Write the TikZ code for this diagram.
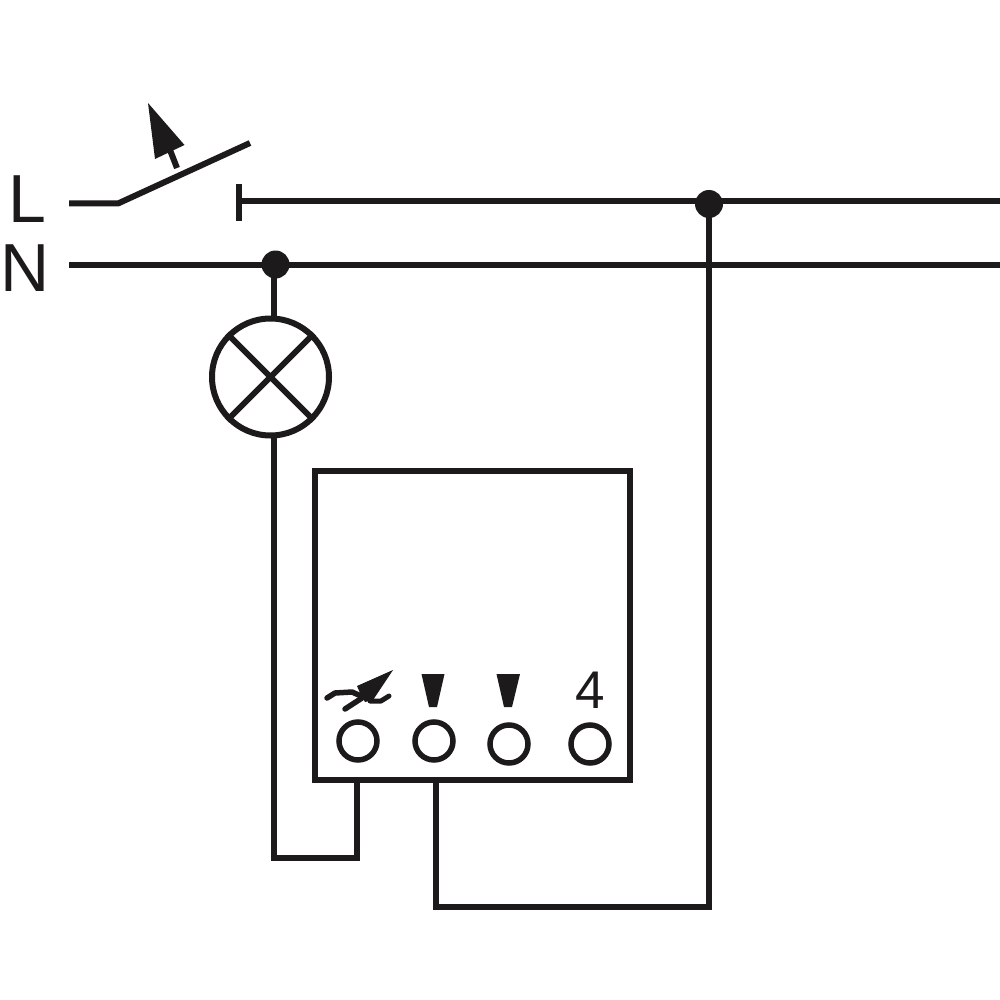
\documentclass[tikz,border=0pt]{standalone}
\usepackage{fontspec}
\setmainfont{Liberation Sans}
\definecolor{ink}{HTML}{1D1A1B}
\tikzset{
  wire/.style={draw=ink,line width=6pt},
  dot/.style={circle,fill=ink,draw=none,minimum size=28pt,inner sep=0pt},
  terminal/.style={circle,draw=ink,line width=5.5pt,fill=white,minimum size=38pt,inner sep=0pt},
  lamp/.style={circle,draw=ink,line width=6pt,minimum size=117pt,inner sep=0pt},
  device/.style={rectangle,draw=ink,line width=6pt,minimum width=315pt,minimum height=309pt,inner sep=0pt},
  letter/.style={text=ink,font=\fontsize{68}{68}\selectfont,inner sep=0pt},
  digit/.style={text=ink,font=\fontsize{53}{53}\selectfont,inner sep=0pt},
  solidmark/.style={fill=ink,draw=none}
}
\begin{document}
\begin{tikzpicture}[x=1pt,y=-1pt]
\useasboundingbox (0,0) rectangle (1000,1000);
\fill[white] (0,0) rectangle (1000,1000);
% labels
\node[letter] (labL) at (27,199.5) {L};
\node[letter] (labN) at (25.5,268.5) {N};
% free ends
\coordinate (Lstart) at (69,203.5);
\coordinate (hinge) at (118,203.5);
\coordinate (swtip) at (250,143);
\coordinate (ctop) at (239,184);
\coordinate (cbot) at (239,221);
\coordinate (cmid) at (239,201);
\coordinate (Lend) at (1000,201);
\coordinate (Nstart) at (69,264.5);
\coordinate (Nend) at (1000,264.5);
% switch
\draw[wire] (Lstart) -- (hinge) -- (swtip);
\draw[wire] (ctop) -- (cbot);
\draw[wire] (cmid) -- (Lend);
\draw[wire] (Nstart) -- (Nend);
% switch arrow
\fill[solidmark] (148,103) -- (184.5,145) -- (155,159) -- cycle;
\draw[wire] (170,150) -- (177,168);
% junctions
\node[dot] (jL) at (709,204) {};
\node[dot] (jN) at (275.5,264.5) {};
% lamp
\node[lamp] (lamp) at (270.5,377) {};
\draw[wire] (lamp.north west) -- (lamp.south east);
\draw[wire] (lamp.north east) -- (lamp.south west);
% device
\node[device] (box) at (472.5,625.5) {};
\node[terminal] (t1) at (358,741) {};
\node[terminal] (t2) at (434,741) {};
\node[terminal] (t3) at (509,744) {};
\node[terminal] (t4) at (590,744) {};
\node[digit] (four) at (590.5,690.5) {4};
% terminal marks
\fill[solidmark] (421.5,674) -- (444.5,674) -- (437,707) -- (429,707) -- cycle;
\fill[solidmark] (496.5,674) -- (520,674) -- (512,707) -- (504,707) -- cycle;
% dimmer mark
\fill[solidmark] (393,670) -- (357,686) -- (360,693) -- (365,702) -- (373,700) -- cycle;
\draw[draw=ink,line width=5.5pt,line cap=round,line join=round] (327,698) -- (335,693) -- (352,692) -- (361,696);
\draw[draw=ink,line width=5.5pt,line cap=round,line join=round] (345,709) -- (362,698);
\draw[draw=ink,line width=5pt,line cap=round,line join=round] (370,701) -- (381,701) -- (389,696);
% connectors
\coordinate (c1) at (273.5,857.5);
\coordinate (c2) at (357,857.5);
\coordinate (c3) at (357,778);
\coordinate (c4) at (435.5,778);
\coordinate (c5) at (435.5,907);
\coordinate (c6) at (708.5,907);
\draw[wire] (jN.center) -- (273.5,264.5) -- (273.5,318);
\draw[wire] (273.5,437) -- (c1) -- (c2) -- (c3);
\draw[wire] (c4) -- (c5) -- (c6) -- (708.5,204);
\end{tikzpicture}
\end{document}
